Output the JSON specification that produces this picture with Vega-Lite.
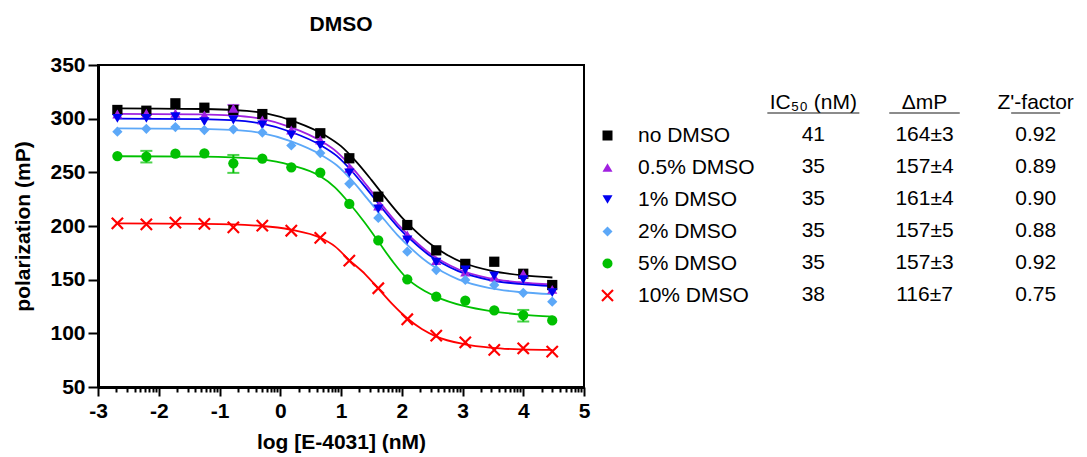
{
"$schema":"https://vega.github.io/schema/vega-lite/v6.json",
"background":"white",
"padding":{"left":11,"top":13,"right":0,"bottom":0},
"spacing":11,
"resolve":{"scale":{"color":"independent","shape":"independent","size":"independent"},"legend":{"color":"independent","shape":"independent"}},
"config":{"font":"Liberation Sans","view":{"stroke":null},
 "axis":{"labelFont":"Liberation Sans","labelFontWeight":"bold","labelFontSize":21,"labelColor":"black","titleFont":"Liberation Sans","titleFontWeight":"bold","titleFontSize":21,"titleColor":"black","domainColor":"black","domainWidth":3,"tickColor":"black","tickWidth":2,"grid":false},
 "legend":{"labelFont":"Liberation Sans","labelFontSize":21,"labelColor":"black"}},
"datasets":{
"pts":[
{"s":"no DMSO","x":-2.681,"y":308.1},{"s":"no DMSO","x":-2.204,"y":307.4},{"s":"no DMSO","x":-1.726,"y":314.3},{"s":"no DMSO","x":-1.249,"y":310.2},{"s":"no DMSO","x":-0.772,"y":308.1},{"s":"no DMSO","x":-0.295,"y":304.3},{"s":"no DMSO","x":0.182,"y":296.2},{"s":"no DMSO","x":0.659,"y":286.4},{"s":"no DMSO","x":1.137,"y":263.1},{"s":"no DMSO","x":1.614,"y":227.3},{"s":"no DMSO","x":2.091,"y":200.9},{"s":"no DMSO","x":2.568,"y":177.3},{"s":"no DMSO","x":3.046,"y":164.7},{"s":"no DMSO","x":3.523,"y":166.7},{"s":"no DMSO","x":4.0,"y":155.5},{"s":"no DMSO","x":4.477,"y":145},
{"s":"0.5% DMSO","x":-2.681,"y":304.3},{"s":"0.5% DMSO","x":-2.204,"y":305},{"s":"0.5% DMSO","x":-1.726,"y":305},{"s":"0.5% DMSO","x":-1.249,"y":303.4},{"s":"0.5% DMSO","x":-0.772,"y":309.7},{"s":"0.5% DMSO","x":-0.295,"y":298.8},{"s":"0.5% DMSO","x":0.182,"y":289.4},{"s":"0.5% DMSO","x":0.659,"y":280.1},{"s":"0.5% DMSO","x":1.137,"y":253.8},{"s":"0.5% DMSO","x":1.614,"y":218.6},{"s":"0.5% DMSO","x":2.091,"y":191.6},{"s":"0.5% DMSO","x":2.568,"y":167.7},{"s":"0.5% DMSO","x":3.046,"y":157},{"s":"0.5% DMSO","x":3.523,"y":152.5},{"s":"0.5% DMSO","x":4.0,"y":155.5},{"s":"0.5% DMSO","x":4.477,"y":141},
{"s":"1% DMSO","x":-2.681,"y":300.3},{"s":"1% DMSO","x":-2.204,"y":300.3},{"s":"1% DMSO","x":-1.726,"y":301.8},{"s":"1% DMSO","x":-1.249,"y":297.2},{"s":"1% DMSO","x":-0.772,"y":298.8},{"s":"1% DMSO","x":-0.295,"y":294.1},{"s":"1% DMSO","x":0.182,"y":284.8},{"s":"1% DMSO","x":0.659,"y":275},{"s":"1% DMSO","x":1.137,"y":249.5},{"s":"1% DMSO","x":1.614,"y":216},{"s":"1% DMSO","x":2.091,"y":187},{"s":"1% DMSO","x":2.568,"y":166.2},{"s":"1% DMSO","x":3.046,"y":159},{"s":"1% DMSO","x":3.523,"y":153.5},{"s":"1% DMSO","x":4.0,"y":150},{"s":"1% DMSO","x":4.477,"y":137.9},
{"s":"2% DMSO","x":-2.681,"y":287.9},{"s":"2% DMSO","x":-2.204,"y":290.5},{"s":"2% DMSO","x":-1.726,"y":292.2},{"s":"2% DMSO","x":-1.249,"y":289.4},{"s":"2% DMSO","x":-0.772,"y":290.1},{"s":"2% DMSO","x":-0.295,"y":287},{"s":"2% DMSO","x":0.182,"y":275},{"s":"2% DMSO","x":0.659,"y":268},{"s":"2% DMSO","x":1.137,"y":239.3},{"s":"2% DMSO","x":1.614,"y":207.5},{"s":"2% DMSO","x":2.091,"y":176.1},{"s":"2% DMSO","x":2.568,"y":159},{"s":"2% DMSO","x":3.046,"y":149.7},{"s":"2% DMSO","x":3.523,"y":145},{"s":"2% DMSO","x":4.0,"y":137.8},{"s":"2% DMSO","x":4.477,"y":129.5},
{"s":"5% DMSO","x":-2.681,"y":265.2},{"s":"5% DMSO","x":-2.204,"y":264.6},{"s":"5% DMSO","x":-1.726,"y":267.4},{"s":"5% DMSO","x":-1.249,"y":267.7},{"s":"5% DMSO","x":-0.772,"y":258.4},{"s":"5% DMSO","x":-0.295,"y":262.7},{"s":"5% DMSO","x":0.182,"y":254.7},{"s":"5% DMSO","x":0.659,"y":249.7},{"s":"5% DMSO","x":1.137,"y":220.5},{"s":"5% DMSO","x":1.614,"y":186.5},{"s":"5% DMSO","x":2.091,"y":150.3},{"s":"5% DMSO","x":2.568,"y":134.1},{"s":"5% DMSO","x":3.046,"y":130.4},{"s":"5% DMSO","x":3.523,"y":121.3},{"s":"5% DMSO","x":4.0,"y":117},{"s":"5% DMSO","x":4.477,"y":112},
{"s":"10% DMSO","x":-2.681,"y":202.5},{"s":"10% DMSO","x":-2.204,"y":201.6},{"s":"10% DMSO","x":-1.726,"y":203.1},{"s":"10% DMSO","x":-1.249,"y":201.9},{"s":"10% DMSO","x":-0.772,"y":198.8},{"s":"10% DMSO","x":-0.295,"y":200.3},{"s":"10% DMSO","x":0.182,"y":195.6},{"s":"10% DMSO","x":0.659,"y":189},{"s":"10% DMSO","x":1.137,"y":167.7},{"s":"10% DMSO","x":1.614,"y":142},{"s":"10% DMSO","x":2.091,"y":113.1},{"s":"10% DMSO","x":2.568,"y":97.8},{"s":"10% DMSO","x":3.046,"y":91.6},{"s":"10% DMSO","x":3.523,"y":84.5},{"s":"10% DMSO","x":4.0,"y":86},{"s":"10% DMSO","x":4.477,"y":83}
],
"crv":[
{"s":"no DMSO","x":-2.68,"y":309.5},{"s":"no DMSO","x":-2,"y":309.3},{"s":"no DMSO","x":-1.25,"y":309.0},{"s":"no DMSO","x":-0.75,"y":308.1},{"s":"no DMSO","x":-0.25,"y":305.1},{"s":"no DMSO","x":0.25,"y":297.0},{"s":"no DMSO","x":0.75,"y":284.1},{"s":"no DMSO","x":1.0,"y":274.4},{"s":"no DMSO","x":1.25,"y":260.0},{"s":"no DMSO","x":1.5,"y":243.0},{"s":"no DMSO","x":1.75,"y":225.0},{"s":"no DMSO","x":2.0,"y":208.1},{"s":"no DMSO","x":2.25,"y":194.0},{"s":"no DMSO","x":2.5,"y":182.0},{"s":"no DMSO","x":2.75,"y":173.0},{"s":"no DMSO","x":3.0,"y":166.0},{"s":"no DMSO","x":3.5,"y":158.0},{"s":"no DMSO","x":4.0,"y":154.0},{"s":"no DMSO","x":4.48,"y":152.0},
{"s":"0.5% DMSO","x":-2.68,"y":304.5},{"s":"0.5% DMSO","x":-2.07,"y":304.3},{"s":"0.5% DMSO","x":-1.32,"y":304.0},{"s":"0.5% DMSO","x":-0.82,"y":303.1},{"s":"0.5% DMSO","x":-0.32,"y":300.0},{"s":"0.5% DMSO","x":0.18,"y":291.9},{"s":"0.5% DMSO","x":0.68,"y":278.8},{"s":"0.5% DMSO","x":0.93,"y":269.1},{"s":"0.5% DMSO","x":1.18,"y":254.6},{"s":"0.5% DMSO","x":1.43,"y":237.4},{"s":"0.5% DMSO","x":1.68,"y":219.2},{"s":"0.5% DMSO","x":1.93,"y":202.1},{"s":"0.5% DMSO","x":2.18,"y":187.9},{"s":"0.5% DMSO","x":2.43,"y":175.8},{"s":"0.5% DMSO","x":2.68,"y":166.7},{"s":"0.5% DMSO","x":2.93,"y":159.7},{"s":"0.5% DMSO","x":3.43,"y":151.5},{"s":"0.5% DMSO","x":3.93,"y":147.6},{"s":"0.5% DMSO","x":4.48,"y":145.5},
{"s":"1% DMSO","x":-2.68,"y":300},{"s":"1% DMSO","x":-2.07,"y":299.8},{"s":"1% DMSO","x":-1.32,"y":299.5},{"s":"1% DMSO","x":-0.82,"y":298.6},{"s":"1% DMSO","x":-0.32,"y":295.6},{"s":"1% DMSO","x":0.18,"y":287.6},{"s":"1% DMSO","x":0.68,"y":274.8},{"s":"1% DMSO","x":0.93,"y":265.3},{"s":"1% DMSO","x":1.18,"y":251.0},{"s":"1% DMSO","x":1.43,"y":234.1},{"s":"1% DMSO","x":1.68,"y":216.3},{"s":"1% DMSO","x":1.93,"y":199.5},{"s":"1% DMSO","x":2.18,"y":185.6},{"s":"1% DMSO","x":2.43,"y":173.7},{"s":"1% DMSO","x":2.68,"y":164.8},{"s":"1% DMSO","x":2.93,"y":157.9},{"s":"1% DMSO","x":3.43,"y":149.9},{"s":"1% DMSO","x":3.93,"y":146.0},{"s":"1% DMSO","x":4.48,"y":144.0},
{"s":"2% DMSO","x":-2.68,"y":291},{"s":"2% DMSO","x":-2.07,"y":290.8},{"s":"2% DMSO","x":-1.32,"y":290.5},{"s":"2% DMSO","x":-0.82,"y":289.6},{"s":"2% DMSO","x":-0.32,"y":286.7},{"s":"2% DMSO","x":0.18,"y":278.8},{"s":"2% DMSO","x":0.68,"y":266.0},{"s":"2% DMSO","x":0.93,"y":256.6},{"s":"2% DMSO","x":1.18,"y":242.5},{"s":"2% DMSO","x":1.43,"y":225.7},{"s":"2% DMSO","x":1.68,"y":208.1},{"s":"2% DMSO","x":1.93,"y":191.5},{"s":"2% DMSO","x":2.18,"y":177.7},{"s":"2% DMSO","x":2.43,"y":165.9},{"s":"2% DMSO","x":2.68,"y":157.1},{"s":"2% DMSO","x":2.93,"y":150.3},{"s":"2% DMSO","x":3.43,"y":142.4},{"s":"2% DMSO","x":3.93,"y":138.5},{"s":"2% DMSO","x":4.48,"y":136.5},
{"s":"5% DMSO","x":-2.68,"y":265},{"s":"5% DMSO","x":-1.25,"y":264.7},{"s":"5% DMSO","x":-0.79,"y":264},{"s":"5% DMSO","x":-0.32,"y":262.3},{"s":"5% DMSO","x":0.16,"y":257},{"s":"5% DMSO","x":0.64,"y":247},{"s":"5% DMSO","x":0.9,"y":236},{"s":"5% DMSO","x":1.14,"y":221},{"s":"5% DMSO","x":1.38,"y":204},{"s":"5% DMSO","x":1.61,"y":186},{"s":"5% DMSO","x":1.85,"y":167},{"s":"5% DMSO","x":2.09,"y":151},{"s":"5% DMSO","x":2.33,"y":141},{"s":"5% DMSO","x":2.57,"y":134},{"s":"5% DMSO","x":3.02,"y":125.5},{"s":"5% DMSO","x":3.49,"y":120.5},{"s":"5% DMSO","x":3.97,"y":117.5},{"s":"5% DMSO","x":4.48,"y":115.5},
{"s":"10% DMSO","x":-2.68,"y":202.5},{"s":"10% DMSO","x":-1.25,"y":202},{"s":"10% DMSO","x":-0.3,"y":200},{"s":"10% DMSO","x":0.18,"y":196.5},{"s":"10% DMSO","x":0.66,"y":189},{"s":"10% DMSO","x":0.9,"y":181},{"s":"10% DMSO","x":1.14,"y":168},{"s":"10% DMSO","x":1.4,"y":155},{"s":"10% DMSO","x":1.61,"y":142},{"s":"10% DMSO","x":1.85,"y":127},{"s":"10% DMSO","x":2.09,"y":114},{"s":"10% DMSO","x":2.33,"y":104},{"s":"10% DMSO","x":2.57,"y":97},{"s":"10% DMSO","x":3.02,"y":90},{"s":"10% DMSO","x":3.49,"y":86.5},{"s":"10% DMSO","x":3.97,"y":85},{"s":"10% DMSO","x":4.48,"y":84.5}
],
"err":[
{"s":"0.5% DMSO","x":-0.772,"lo":306.5,"hi":312.8},
{"s":"5% DMSO","x":-2.204,"lo":259.2,"hi":270},
{"s":"5% DMSO","x":-0.772,"lo":249.5,"hi":266.2},
{"s":"5% DMSO","x":4.0,"lo":111,"hi":121.8}
],
"tbl":[
{"s":"no DMSO","ic50":"41","dmp":"164±3","z":"0.92"},
{"s":"0.5% DMSO","ic50":"35","dmp":"157±4","z":"0.89"},
{"s":"1% DMSO","ic50":"35","dmp":"161±4","z":"0.90"},
{"s":"2% DMSO","ic50":"35","dmp":"157±5","z":"0.88"},
{"s":"5% DMSO","ic50":"35","dmp":"157±3","z":"0.92"},
{"s":"10% DMSO","ic50":"38","dmp":"116±7","z":"0.75"}
],
"hdr":[
{"col":"ic50","h":"IC₅₀ (nM)"},
{"col":"dmp","h":"ΔmP"},
{"col":"z","h":"Z'-factor"}
]
},
"hconcat":[
{
 "width":486,"height":322,
 "title":{"text":"DMSO","fontSize":21,"fontWeight":"bold","font":"Liberation Sans","color":"black","anchor":"middle","frame":"group","offset":19},
 "view":{"stroke":"black","strokeWidth":2},
 "encoding":{
  "x":{"field":"x","type":"quantitative","scale":{"domain":[-3,5],"nice":false,"zero":false},
   "axis":{"values":[-3,-2.699,-2.523,-2.398,-2.301,-2.222,-2.155,-2.097,-2.046,-2,-1.699,-1.523,-1.398,-1.301,-1.222,-1.155,-1.097,-1.046,-1,-0.699,-0.523,-0.398,-0.301,-0.222,-0.155,-0.097,-0.046,0,0.301,0.477,0.602,0.699,0.778,0.845,0.903,0.954,1,1.301,1.477,1.602,1.699,1.778,1.845,1.903,1.954,2,2.301,2.477,2.602,2.699,2.778,2.845,2.903,2.954,3,3.301,3.477,3.602,3.699,3.778,3.845,3.903,3.954,4,4.301,4.477,4.602,4.699,4.778,4.845,4.903,4.954,5],
    "labelExpr":"abs(datum.value-round(datum.value))<0.001 ? ''+round(datum.value) : ''",
    "tickSize":{"condition":{"test":"abs(datum.value-round(datum.value))<0.001","value":9},"value":5},
    "labelOverlap":false,"labelFlush":false,"labelBound":false,"labelPadding":4,
    "title":"log [E-4031] (nM)","titlePadding":10}},
  "y":{"field":"y","type":"quantitative","scale":{"domain":[50,350],"nice":false,"zero":false},"title":"polarization (mP)","axis":{"values":[50,100,150,200,250,300,350],"tickSize":10,"labelPadding":3,"titlePadding":16}}
 },
 "layer":[
  {"data":{"name":"err"},"mark":{"type":"rule","strokeWidth":2},
   "encoding":{"y":{"field":"lo","type":"quantitative","title":"polarization (mP)"},
    "y2":{"field":"hi"},
    "color":{"condition":[{"test":"datum.s==='no DMSO'","value":"#000000"},{"test":"datum.s==='0.5% DMSO'","value":"#A020E0"},{"test":"datum.s==='1% DMSO'","value":"#0000F0"},{"test":"datum.s==='2% DMSO'","value":"#5CA8F8"},{"test":"datum.s==='5% DMSO'","value":"#00C000"}],"value":"#FF0000"}}},
  {"data":{"name":"err"},"mark":{"type":"tick","orient":"horizontal","size":12,"thickness":2},
   "encoding":{"y":{"field":"lo","type":"quantitative","title":"polarization (mP)"},
    "color":{"condition":[{"test":"datum.s==='no DMSO'","value":"#000000"},{"test":"datum.s==='0.5% DMSO'","value":"#A020E0"},{"test":"datum.s==='1% DMSO'","value":"#0000F0"},{"test":"datum.s==='2% DMSO'","value":"#5CA8F8"},{"test":"datum.s==='5% DMSO'","value":"#00C000"}],"value":"#FF0000"}}},
  {"data":{"name":"err"},"mark":{"type":"tick","orient":"horizontal","size":12,"thickness":2},
   "encoding":{"y":{"field":"hi","type":"quantitative","title":"polarization (mP)"},
    "color":{"condition":[{"test":"datum.s==='no DMSO'","value":"#000000"},{"test":"datum.s==='0.5% DMSO'","value":"#A020E0"},{"test":"datum.s==='1% DMSO'","value":"#0000F0"},{"test":"datum.s==='2% DMSO'","value":"#5CA8F8"},{"test":"datum.s==='5% DMSO'","value":"#00C000"}],"value":"#FF0000"}}},
  {"data":{"name":"crv"},"mark":{"type":"line","interpolate":"monotone","strokeWidth":1.8},
   "encoding":{"detail":{"field":"s","type":"nominal"},
    "color":{"condition":[{"test":"datum.s==='no DMSO'","value":"#000000"},{"test":"datum.s==='0.5% DMSO'","value":"#A020E0"},{"test":"datum.s==='1% DMSO'","value":"#0000F0"},{"test":"datum.s==='2% DMSO'","value":"#5CA8F8"},{"test":"datum.s==='5% DMSO'","value":"#00C000"}],"value":"#FF0000"}}},
  {"data":{"name":"pts"},"mark":{"type":"point","filled":true,"opacity":1,"size":105},
   "encoding":{
    "color":{"field":"s","type":"nominal","scale":{"domain":["no DMSO","0.5% DMSO","1% DMSO","2% DMSO","5% DMSO","10% DMSO"],"range":["#000000","#A020E0","#0000F0","#5CA8F8","#00C000","#FF0000"]},
     "legend":{"title":" ","titleFontSize":20,"titlePadding":40,"orient":"right","offset":13,"symbolSize":100,"labelOffset":20,"rowPadding":10,"labelFontSize":21,"labelFont":"Liberation Sans","labelColor":"black"}},
    "shape":{"field":"s","type":"nominal","scale":{"domain":["no DMSO","0.5% DMSO","1% DMSO","2% DMSO","5% DMSO","10% DMSO"],"range":["square","triangle-up","triangle-down","diamond","circle","M-1.25,-0.95L-0.95,-1.25L0,-0.3L0.95,-1.25L1.25,-0.95L0.3,0L1.25,0.95L0.95,1.25L0,0.3L-0.95,1.25L-1.25,0.95L-0.3,0Z"]},
     "legend":{"title":" ","titleFontSize":20,"titlePadding":40,"orient":"right","offset":13,"symbolSize":100,"labelOffset":20,"rowPadding":10,"labelFontSize":21,"labelFont":"Liberation Sans","labelColor":"black"}}}}
 ]
},
{
 "width":289,"height":256,
 "view":{"stroke":null},
 "layer":[
  {"data":{"name":"tbl"},"transform":[{"fold":["ic50","dmp","z"],"as":["col","val"]}],
   "mark":{"type":"text","fontSize":21,"font":"Liberation Sans","color":"black","baseline":"middle","align":"center"},
   "encoding":{"x":{"field":"col","type":"nominal","scale":{"type":"point","domain":["ic50","dmp","z"],"padding":0.3},"axis":null},
    "y":{"field":"s","type":"nominal","scale":{"type":"point","domain":["hdr","no DMSO","0.5% DMSO","1% DMSO","2% DMSO","5% DMSO","10% DMSO"],"padding":1,"align":0.59375},"axis":null},
    "text":{"field":"val"}}},
  {"data":{"name":"hdr"},
   "mark":{"type":"text","fontSize":21,"font":"Liberation Sans","color":"black","baseline":"middle","align":"center"},
   "encoding":{"x":{"field":"col","type":"nominal","scale":{"type":"point","domain":["ic50","dmp","z"],"padding":0.3},"axis":null},
    "y":{"datum":"hdr","type":"nominal","scale":{"type":"point","domain":["hdr","no DMSO","0.5% DMSO","1% DMSO","2% DMSO","5% DMSO","10% DMSO"],"padding":1,"align":0.59375},"axis":null},
    "text":{"field":"h"}}},
  {"data":{"name":"hdr"},
   "mark":{"type":"tick","orient":"horizontal","thickness":1.5,"color":"#222222","yOffset":10},
   "encoding":{"x":{"field":"col","type":"nominal","scale":{"type":"point","domain":["ic50","dmp","z"],"padding":0.3},"axis":null},
    "y":{"datum":"hdr","type":"nominal","scale":{"type":"point","domain":["hdr","no DMSO","0.5% DMSO","1% DMSO","2% DMSO","5% DMSO","10% DMSO"],"padding":1,"align":0.59375},"axis":null},
    "size":{"field":"col","type":"nominal","scale":{"domain":["ic50","dmp","z"],"range":[92,49,83]},"legend":null}}}
 ]
}
]
}
